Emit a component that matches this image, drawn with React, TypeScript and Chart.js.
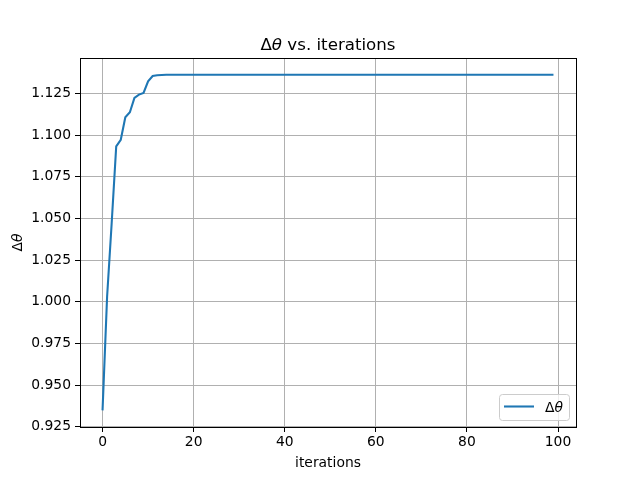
import React, { useEffect, useRef } from "react";
import { Chart, registerables } from "chart.js";

Chart.register(...registerables);

// Δθ per iteration (iterations 0..99)
const deltaTheta: number[] = [
  0.9348, 1.0030, 1.0470, 1.0933, 1.0973, 1.1108, 1.1138, 1.1224, 1.1244, 1.1254,
  1.1324, 1.1356, 1.1360, 1.1362, 1.1363, 1.1363, 1.1363, 1.1363, 1.1363, 1.1363,
  1.1363, 1.1363, 1.1363, 1.1363, 1.1363, 1.1363, 1.1363, 1.1363, 1.1363, 1.1363,
  1.1363, 1.1363, 1.1363, 1.1363, 1.1363, 1.1363, 1.1363, 1.1363, 1.1363, 1.1363,
  1.1363, 1.1363, 1.1363, 1.1363, 1.1363, 1.1363, 1.1363, 1.1363, 1.1363, 1.1363,
  1.1363, 1.1363, 1.1363, 1.1363, 1.1363, 1.1363, 1.1363, 1.1363, 1.1363, 1.1363,
  1.1363, 1.1363, 1.1363, 1.1363, 1.1363, 1.1363, 1.1363, 1.1363, 1.1363, 1.1363,
  1.1363, 1.1363, 1.1363, 1.1363, 1.1363, 1.1363, 1.1363, 1.1363, 1.1363, 1.1363,
  1.1363, 1.1363, 1.1363, 1.1363, 1.1363, 1.1363, 1.1363, 1.1363, 1.1363, 1.1363,
  1.1363, 1.1363, 1.1363, 1.1363, 1.1363, 1.1363, 1.1363, 1.1363, 1.1363, 1.1363,
];
const iterations: number[] = deltaTheta.map((_, i) => i);

const xTicks = [0, 20, 40, 60, 80, 100];
const yTicks = [0.925, 0.95, 0.975, 1.0, 1.025, 1.05, 1.075, 1.1, 1.125];

const FONT = "'DejaVu Sans', sans-serif";
const LINE_COLOR = "#1f77b4";

type Part = { text: string; italic?: boolean };
const titleParts: Part[] = [{ text: "Δ" }, { text: "θ", italic: true }, { text: " vs. iterations" }];
const yLabelParts: Part[] = [{ text: "Δ" }, { text: "θ", italic: true }];
const legendParts: Part[] = [{ text: "Δ" }, { text: "θ", italic: true }];
const xLabel = "iterations";

function fontFor(p: Part, size: number) {
  return `${p.italic ? "italic " : ""}${size}px ${FONT}`;
}
function measureParts(ctx: CanvasRenderingContext2D, parts: Part[], size: number) {
  let w = 0;
  for (const p of parts) {
    ctx.font = fontFor(p, size);
    w += ctx.measureText(p.text).width;
  }
  return w;
}
function drawParts(ctx: CanvasRenderingContext2D, parts: Part[], size: number, x: number, y: number) {
  let cx = x;
  for (const p of parts) {
    ctx.font = fontFor(p, size);
    ctx.fillText(p.text, cx, y);
    cx += ctx.measureText(p.text).width;
  }
}

const decorPlugin = {
  id: "decor",
  afterDraw(chart: any) {
    const ctx: CanvasRenderingContext2D = chart.ctx;
    const a = chart.chartArea;
    ctx.save();
    ctx.fillStyle = "#000";
    ctx.textAlign = "left";
    ctx.textBaseline = "alphabetic";

    // frame
    ctx.strokeStyle = "#000";
    ctx.lineWidth = 1;
    ctx.strokeRect(Math.round(a.left) + 0.5, Math.round(a.top) + 0.5, Math.round(a.right - a.left), Math.round(a.bottom - a.top));

    const cxm = (a.left + a.right) / 2;
    // title
    const tw = measureParts(ctx, titleParts, 16.67);
    drawParts(ctx, titleParts, 16.67, cxm - tw / 2, a.top - 8);

    // x label
    ctx.font = `13.89px ${FONT}`;
    const xw = ctx.measureText(xLabel).width;
    ctx.fillText(xLabel, cxm - xw / 2, 467);

    // y label
    const cym = (a.top + a.bottom) / 2;
    const yw = measureParts(ctx, yLabelParts, 13.89);
    ctx.save();
    ctx.translate(22, cym);
    ctx.rotate(-Math.PI / 2);
    drawParts(ctx, yLabelParts, 13.89, -yw / 2, 0);
    ctx.restore();

    // legend
    const bx = 499.5, by = 394.5, bw = 70, bh = 26, r = 3;
    ctx.beginPath();
    ctx.moveTo(bx + r, by);
    ctx.lineTo(bx + bw - r, by);
    ctx.quadraticCurveTo(bx + bw, by, bx + bw, by + r);
    ctx.lineTo(bx + bw, by + bh - r);
    ctx.quadraticCurveTo(bx + bw, by + bh, bx + bw - r, by + bh);
    ctx.lineTo(bx + r, by + bh);
    ctx.quadraticCurveTo(bx, by + bh, bx, by + bh - r);
    ctx.lineTo(bx, by + r);
    ctx.quadraticCurveTo(bx, by, bx + r, by);
    ctx.closePath();
    ctx.fillStyle = "rgba(255,255,255,0.8)";
    ctx.fill();
    ctx.strokeStyle = "#cccccc";
    ctx.lineWidth = 1;
    ctx.stroke();

    ctx.strokeStyle = LINE_COLOR;
    ctx.lineWidth = 2.08;
    ctx.beginPath();
    ctx.moveTo(504, 406.5);
    ctx.lineTo(534, 406.5);
    ctx.stroke();

    ctx.fillStyle = "#000";
    drawParts(ctx, legendParts, 13.89, 545, 411.5);
    ctx.restore();
  },
};

export default function App() {
  const ref = useRef<HTMLCanvasElement | null>(null);
  useEffect(() => {
    if (!ref.current) return;
    const tickFont = { family: FONT, size: 13.89 };
    const chart = new Chart(ref.current, {
      type: "line",
      data: {
        datasets: [
          {
            label: "Δθ",
            data: iterations.map((x, i) => ({ x, y: deltaTheta[i] })),
            borderColor: LINE_COLOR,
            backgroundColor: LINE_COLOR,
            borderWidth: 2.08,
            pointRadius: 0,
            tension: 0,
            fill: false,
          },
        ],
      },
      options: {
        responsive: false,
        animation: false,
        devicePixelRatio: 1,
        layout: { padding: { left: 0, top: 58, right: 64, bottom: 0 } },
        plugins: {
          legend: { display: false },
          title: { display: false },
          tooltip: { enabled: false },
        },
        scales: {
          x: {
            type: "linear",
            min: -4.95,
            max: 103.95,
            afterBuildTicks: (s: any) => {
              s.ticks = xTicks.map((v) => ({ value: v }));
            },
            afterFit: (s: any) => {
              s.height = 53;
            },
            ticks: {
              font: tickFont,
              color: "#000",
              padding: 2,
              maxRotation: 0,
              autoSkip: false,
              callback: (v: any) => String(v),
            },
            grid: { color: "#b0b0b0", lineWidth: 1, tickColor: "#000", tickLength: 5, drawTicks: true },
            border: { display: true, color: "#000", width: 1 },
          },
          y: {
            type: "linear",
            min: 0.9248,
            max: 1.1464,
            afterBuildTicks: (s: any) => {
              s.ticks = yTicks.map((v) => ({ value: v }));
            },
            afterFit: (s: any) => {
              s.width = 80;
            },
            ticks: {
              font: tickFont,
              color: "#000",
              padding: 4,
              autoSkip: false,
              callback: (v: any) => Number(v).toFixed(3),
            },
            grid: { color: "#b0b0b0", lineWidth: 1, tickColor: "#000", tickLength: 5, drawTicks: true },
            border: { display: true, color: "#000", width: 1 },
          },
        },
      },
      plugins: [decorPlugin],
    } as any);
    return () => chart.destroy();
  }, []);
  return (
    <canvas
      ref={ref}
      width={640}
      height={480}
      style={{ position: "fixed", left: 0, top: 0, width: 640, height: 480, background: "#fff" }}
    />
  );
}
